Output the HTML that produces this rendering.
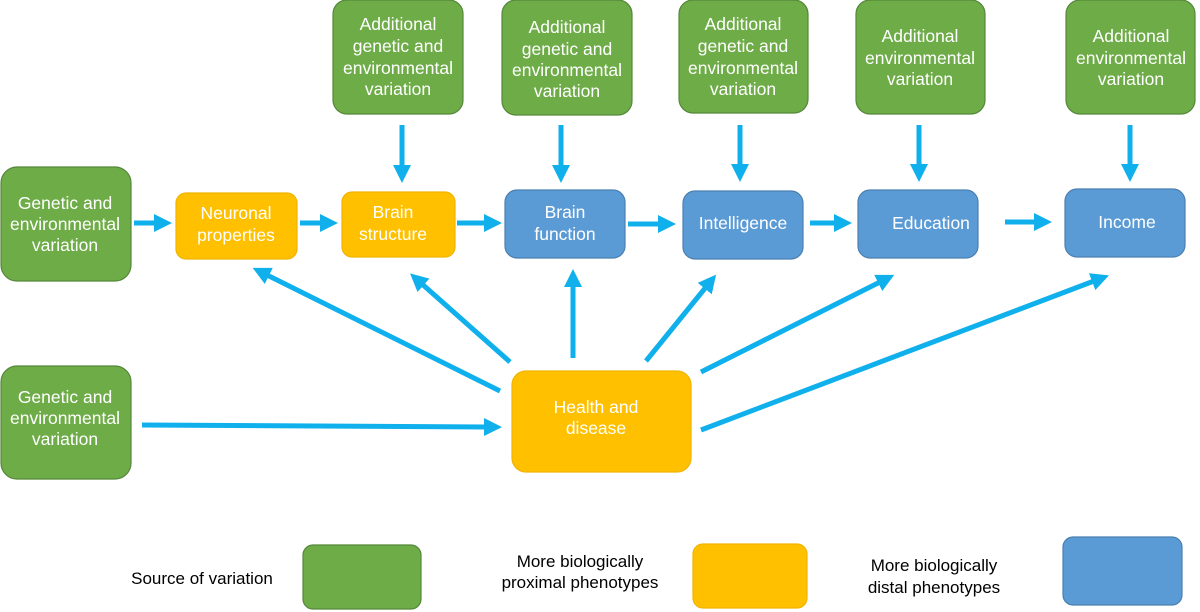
<!DOCTYPE html>
<html><head><meta charset="utf-8"><style>
html,body{margin:0;padding:0;background:#fff;width:1200px;height:612px;overflow:hidden}
svg text{font-family:"Liberation Sans",sans-serif;fill:#fff;font-size:17.5px;text-anchor:middle}
svg text.k{fill:#000;font-size:17px}
</style></head><body>
<svg width="1200" height="612" viewBox="0 0 1200 612" xmlns="http://www.w3.org/2000/svg">
<defs>
<marker id="a" markerUnits="userSpaceOnUse" markerWidth="18" markerHeight="18" refX="2" refY="9" orient="auto">
<path d="M0,0 L18,9 L0,18 Z" fill="#0fb0ec"/></marker>
</defs>
<g stroke-width="1.2">
<rect x="333" y="0" width="130" height="114" rx="14" fill="#6eac48" stroke="#55873a"/>
<rect x="502" y="0" width="130" height="115" rx="14" fill="#6eac48" stroke="#55873a"/>
<rect x="679" y="0" width="129" height="113" rx="14" fill="#6eac48" stroke="#55873a"/>
<rect x="856" y="0" width="129" height="114" rx="14" fill="#6eac48" stroke="#55873a"/>
<rect x="1066" y="0" width="129" height="114" rx="14" fill="#6eac48" stroke="#55873a"/>
<rect x="1" y="167" width="130" height="114" rx="16" fill="#6eac48" stroke="#55873a"/>
<rect x="1" y="366" width="130" height="113" rx="16" fill="#6eac48" stroke="#55873a"/>
<rect x="176" y="193" width="121" height="66" rx="10" fill="#ffc000" stroke="#f0b400"/>
<rect x="342" y="192" width="113" height="65" rx="10" fill="#ffc000" stroke="#f0b400"/>
<rect x="512" y="371" width="179" height="101" rx="14" fill="#ffc000" stroke="#f0b400"/>
<rect x="505" y="190" width="120" height="68" rx="12" fill="#5b9bd5" stroke="#4a7fb0"/>
<rect x="683" y="191" width="120" height="68" rx="12" fill="#5b9bd5" stroke="#4a7fb0"/>
<rect x="858" y="190" width="120" height="68" rx="12" fill="#5b9bd5" stroke="#4a7fb0"/>
<rect x="1065" y="189" width="120" height="68" rx="12" fill="#5b9bd5" stroke="#4a7fb0"/>
<rect x="303" y="545" width="118" height="64" rx="10" fill="#6eac48" stroke="#55873a"/>
<rect x="693" y="544" width="114" height="64" rx="10" fill="#ffc000" stroke="#f0b400"/>
<rect x="1063" y="537" width="119" height="68" rx="10" fill="#5b9bd5" stroke="#4a7fb0"/>
</g>
<g stroke="#0fb0ec" stroke-width="5" marker-end="url(#a)" fill="none">
<line x1="134" y1="223" x2="156" y2="223"/>
<line x1="300" y1="223" x2="322" y2="223"/>
<line x1="457" y1="223" x2="486" y2="223"/>
<line x1="628" y1="224" x2="660" y2="224"/>
<line x1="810" y1="223" x2="836" y2="223"/>
<line x1="1005" y1="222" x2="1036" y2="222"/>
<line x1="402" y1="125" x2="402" y2="167"/>
<line x1="561" y1="125" x2="561" y2="167"/>
<line x1="740" y1="125" x2="740" y2="166"/>
<line x1="919" y1="125" x2="919" y2="166"/>
<line x1="1130" y1="125" x2="1130" y2="166"/>
<line x1="142" y1="425" x2="486" y2="427"/>
<line x1="500" y1="391" x2="267" y2="275"/>
<line x1="510" y1="362" x2="422" y2="284"/>
<line x1="573" y1="358" x2="573" y2="285"/>
<line x1="646" y1="361" x2="706" y2="287"/>
<line x1="701" y1="372" x2="880" y2="282"/>
<line x1="701" y1="430" x2="1094" y2="281"/>
</g>
<text x="398" y="30">Additional</text><text x="398" y="52">genetic and</text><text x="398" y="74">environmental</text><text x="398" y="95">variation</text>
<text x="567" y="33">Additional</text><text x="567" y="55">genetic and</text><text x="567" y="76">environmental</text><text x="567" y="97">variation</text>
<text x="743" y="30">Additional</text><text x="743" y="52">genetic and</text><text x="743" y="74">environmental</text><text x="743" y="95">variation</text>
<text x="920" y="42">Additional</text><text x="920" y="64">environmental</text><text x="920" y="85">variation</text>
<text x="1131" y="42">Additional</text><text x="1131" y="64">environmental</text><text x="1131" y="85">variation</text>
<text x="65" y="209">Genetic and</text><text x="65" y="230">environmental</text><text x="65" y="251">variation</text>
<text x="65" y="403">Genetic and</text><text x="65" y="424">environmental</text><text x="65" y="445">variation</text>
<text x="236" y="219">Neuronal</text><text x="236" y="241">properties</text>
<text x="393" y="218">Brain</text><text x="393" y="240">structure</text>
<text x="565" y="218">Brain</text><text x="565" y="240">function</text>
<text x="743" y="229">Intelligence</text>
<text x="931" y="229">Education</text>
<text x="1127" y="228">Income</text>
<text x="596" y="413">Health and</text><text x="596" y="434">disease</text>
<text class="k" x="202" y="584">Source of variation</text>
<text class="k" x="580" y="567">More biologically</text><text class="k" x="580" y="588">proximal phenotypes</text>
<text class="k" x="934" y="571">More biologically</text><text class="k" x="934" y="593">distal phenotypes</text>
</svg>
</body></html>
